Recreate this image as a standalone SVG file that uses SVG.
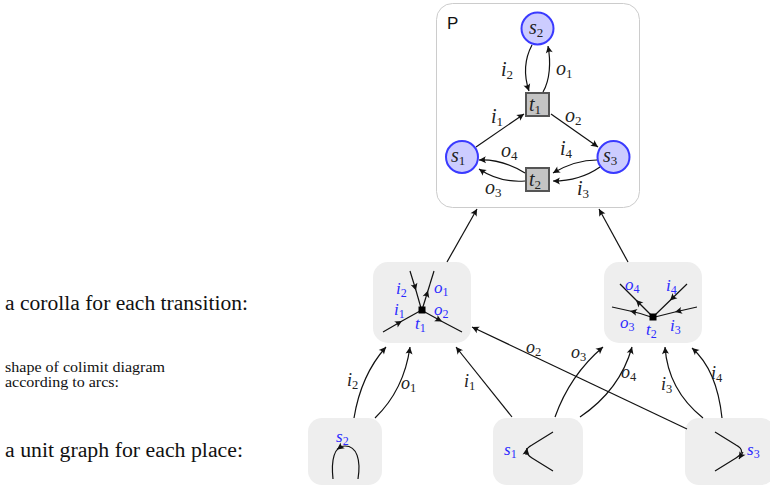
<svg xmlns="http://www.w3.org/2000/svg" width="770" height="486" viewBox="0 0 770 486">
<defs>
<marker id="ah" viewBox="-8 -4 9 8" refX="0" refY="0" markerWidth="9" markerHeight="8" markerUnits="userSpaceOnUse" orient="auto">
<path d="M0,0 L-7,-3.5 Q-4.5,0 -7,3.5 Z" fill="#111"/>
</marker>
<style>
.c{fill:none;stroke:#111;stroke-width:1.2}
.a{marker-end:url(#ah)}
.m{marker-mid:url(#ah)}
.lab{font-family:"Liberation Serif","DejaVu Serif",serif;font-style:italic;fill:#222}
.blue{font-family:"Liberation Serif","DejaVu Serif",serif;font-style:italic;fill:#2b2bff}
.lab tspan,.blue tspan{font-style:normal}
.txt{font-family:"Liberation Serif","DejaVu Serif",serif;fill:#111}
.box{fill:#eeeeee}
.pl{fill:#ccccff;stroke:#3a3aff;stroke-width:2}
.tr{fill:#c4c4c4;stroke:#555;stroke-width:2}
</style>
</defs>
<rect width="770" height="486" fill="#fff"/>

<text class="txt" x="5" y="310" font-size="20" textLength="243" lengthAdjust="spacingAndGlyphs">a corolla for each transition:</text>
<text class="txt" x="5" y="372" font-size="14.5" textLength="160" lengthAdjust="spacingAndGlyphs">shape of colimit diagram</text>
<text class="txt" x="5" y="387" font-size="14.5" textLength="114" lengthAdjust="spacingAndGlyphs">according to arcs:</text>
<text class="txt" x="5" y="457" font-size="20" textLength="238" lengthAdjust="spacingAndGlyphs">a unit graph for each place:</text>

<g id="P">
<rect x="436.5" y="3.5" width="203" height="204" rx="16" fill="#fff" stroke="#cccccc" stroke-width="1"/>
<text x="447" y="29" font-family="Liberation Sans,Arial,sans-serif" font-size="17" fill="#111">P</text>
<g id="s2"><circle cx="537.5" cy="28.5" r="16" class="pl"/><text class="lab" x="529" y="34" font-size="20">s<tspan font-size="13" dy="3">2</tspan></text></g>
<g id="t1"><rect x="526" y="93" width="23" height="23" class="tr"/><text class="lab" x="529" y="111" font-size="20">t<tspan font-size="13" dy="3">1</tspan></text></g>
<g id="s1"><circle cx="462" cy="157" r="16" class="pl"/><text class="lab" x="451" y="162" font-size="20">s<tspan font-size="13" dy="3">1</tspan></text></g>
<g id="s3"><circle cx="613.5" cy="157" r="16" class="pl"/><text class="lab" x="603" y="162" font-size="20">s<tspan font-size="13" dy="3">3</tspan></text></g>
<g id="t2"><rect x="526" y="168" width="23" height="23" class="tr"/><text class="lab" x="529" y="186" font-size="20">t<tspan font-size="13" dy="3">2</tspan></text></g>
<g id="P-arcs">
<path class="c a" d="M532,45 C524,60 524,76 529,91"/>
<path class="c a" d="M543,92 C550,80 551,62 548,46"/>
<path class="c a" d="M476,147 L524,114"/>
<path class="c a" d="M551,114 L598,147"/>
<path class="c a" d="M525,173 Q502,159 479,160"/>
<path class="c a" d="M525,181 Q500,183 479,169"/>
<path class="c a" d="M597,160 Q575,160 553,173"/>
<path class="c a" d="M600,167 Q580,181 553,181"/>
</g>
<g font-size="20">
<text class="lab" x="501" y="76">i<tspan font-size="13" dy="3">2</tspan></text>
<text class="lab" x="556" y="75">o<tspan font-size="13" dy="3">1</tspan></text>
<text class="lab" x="491" y="123">i<tspan font-size="13" dy="3">1</tspan></text>
<text class="lab" x="565" y="122">o<tspan font-size="13" dy="3">2</tspan></text>
<text class="lab" x="501" y="157">o<tspan font-size="13" dy="3">4</tspan></text>
<text class="lab" x="560" y="155">i<tspan font-size="13" dy="3">4</tspan></text>
<text class="lab" x="485" y="194">o<tspan font-size="13" dy="3">3</tspan></text>
<text class="lab" x="577" y="195">i<tspan font-size="13" dy="3">3</tspan></text>
</g>
</g>

<g id="corolla-t1">
<rect class="box" x="373" y="262" width="98" height="81" rx="15"/>
<path class="c m" d="M410,271 L416,290.5 L421,308"/>
<path class="c m" d="M422,310 L428,290.5 L434,271"/>
<path class="c m" d="M383,332 L402,321 L420,311"/>
<path class="c m" d="M423,311 L442,321.5 L462,332"/>
<rect x="418.5" y="306.5" width="7" height="7" fill="#000"/>
<g font-size="17">
<text class="blue" x="396" y="294">i<tspan font-size="12" dy="3">2</tspan></text>
<text class="blue" x="434" y="293">o<tspan font-size="12" dy="3">1</tspan></text>
<text class="blue" x="394" y="315">i<tspan font-size="12" dy="3">1</tspan></text>
<text class="blue" x="434" y="315">o<tspan font-size="12" dy="3">2</tspan></text>
<text class="blue" x="415" y="329">t<tspan font-size="12" dy="3">1</tspan></text>
</g>
</g>

<g id="corolla-t2">
<rect class="box" x="604" y="262" width="98" height="81" rx="15"/>
<path class="c m" d="M652,316 L636,300 L620,284"/>
<path class="c m" d="M687,284 L670,300.5 L654,316"/>
<path class="c m" d="M651,317 Q640,313 630,311 Q621,309 612,307"/>
<path class="c m" d="M697,307 L675,312 L655,317"/>
<rect x="649.5" y="313.5" width="7" height="7" fill="#000"/>
<g font-size="17">
<text class="blue" x="625" y="290">o<tspan font-size="12" dy="3">4</tspan></text>
<text class="blue" x="666" y="291">i<tspan font-size="12" dy="3">4</tspan></text>
<text class="blue" x="620" y="328">o<tspan font-size="12" dy="3">3</tspan></text>
<text class="blue" x="670" y="331">i<tspan font-size="12" dy="3">3</tspan></text>
<text class="blue" x="646" y="335">t<tspan font-size="12" dy="3">2</tspan></text>
</g>
</g>

<g id="unit-s2">
<rect class="box" x="308" y="418" width="74" height="67" rx="14"/>
<path class="c" d="M358,479 C361,460 357,446 345,446 C334,446 331,460 333,479"/>
<path class="c a" d="M341,446.6 L337,449.5" stroke-width="0.5"/>
<text class="blue" x="336" y="442" font-size="17">s<tspan font-size="12" dy="3">2</tspan></text>
</g>

<g id="unit-s1">
<rect class="box" x="493" y="418" width="90" height="67" rx="14"/>
<path class="c" d="M553,471 L532,458 Q521,451 532,445 L553,432"/>
<path class="c a" d="M526,455 L527,448" stroke-width="0.5"/>
<text class="blue" x="504" y="455" font-size="17">s<tspan font-size="12" dy="3">1</tspan></text>
</g>

<g id="unit-s3">
<rect class="box" x="685" y="418" width="90" height="67" rx="14"/>
<path class="c" d="M715,432 L736,445 Q747,451 736,458 L715,471"/>
<path class="c a" d="M743,452 L739,459" stroke-width="0.5"/>
<text class="blue" x="747" y="455" font-size="17">s<tspan font-size="12" dy="3">3</tspan></text>
</g>

<g id="connectors">
<path class="c a" d="M447,262 L477,209"/>
<path class="c a" d="M628,262 L599,209"/>
<path class="c a" d="M354,418 Q361,375 386,347"/>
<path class="c a" d="M375,418 Q404,390 410,347"/>
<path class="c a" d="M512,417 L456,347"/>
<path class="c a" d="M687,429 L472,327"/>
<path class="c a" d="M555,417 Q570,375 603,347"/>
<path class="c a" d="M580,417 Q620,390 632,347"/>
<path class="c a" d="M703,418 Q668,390 665,347"/>
<path class="c a" d="M722,418 Q717,370 692,348"/>
</g>
<g font-size="18">
<text class="lab" x="347" y="386">i<tspan font-size="12.5" dy="3">2</tspan></text>
<text class="lab" x="401" y="389">o<tspan font-size="12.5" dy="3">1</tspan></text>
<text class="lab" x="464" y="387">i<tspan font-size="12.5" dy="3">1</tspan></text>
<text class="lab" x="526" y="353">o<tspan font-size="12.5" dy="3">2</tspan></text>
<text class="lab" x="571" y="358">o<tspan font-size="12.5" dy="3">3</tspan></text>
<text class="lab" x="621" y="378">o<tspan font-size="12.5" dy="3">4</tspan></text>
<text class="lab" x="661" y="390">i<tspan font-size="12.5" dy="3">3</tspan></text>
<text class="lab" x="711" y="379">i<tspan font-size="12.5" dy="3">4</tspan></text>
</g>
</svg>
